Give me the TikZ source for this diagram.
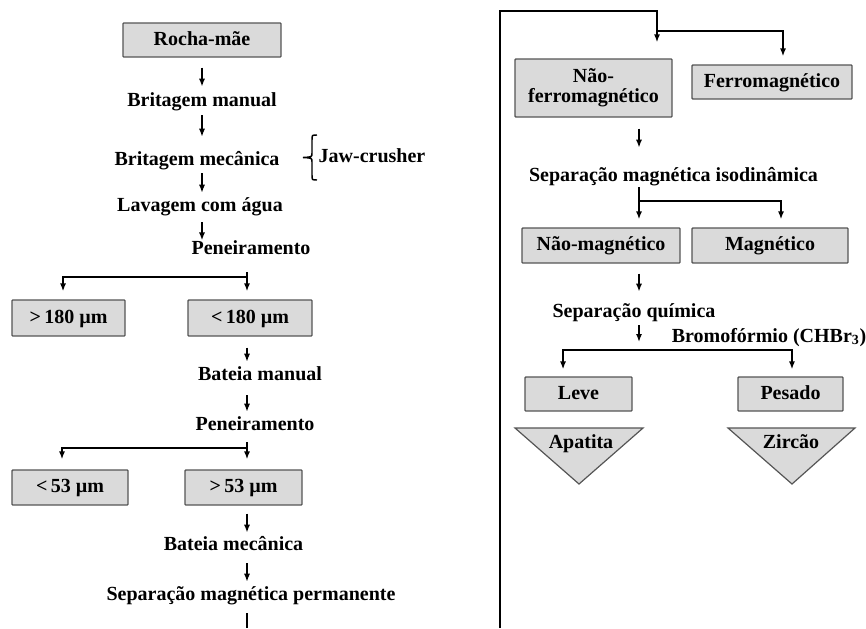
\documentclass[tikz,border=0pt]{standalone}
\usepackage{fontspec}
\setmainfont{Liberation Serif}
\usetikzlibrary{arrows.meta}
\definecolor{boxfill}{RGB}{218,218,218}
\definecolor{boxline}{RGB}{85,85,85}
\begin{document}
\begin{tikzpicture}[x=0.75pt,y=-0.75pt,
  lbl/.style={font=\bfseries\fontsize{15}{15}\selectfont, inner sep=0pt, text height=10pt, text depth=3pt, anchor=base},
  bx/.style={draw=boxline, fill=boxfill, line width=1pt, font=\bfseries\fontsize{15}{15}\selectfont, inner sep=0pt, rounded corners=0.6pt},
  bx1/.style={bx, text height=10pt, text depth=2.5pt},
  arr/.style={line width=1.15pt, -{Latex[length=6pt,width=4.6pt]}},
  ln/.style={line width=1.15pt},
  tri/.style={draw=boxline, fill=boxfill, line width=0.9pt, line join=miter}]
\useasboundingbox (0,0) rectangle (866,628);

% ---------- left column ----------
\node[bx1, minimum width=118.5pt, minimum height=25.5pt] (rocha) at (202,40) {Rocha-mãe};
\node[lbl] (bman) at (202,106) {Britagem manual};
\node[lbl] (bmec) at (197,165) {Britagem mecânica};
\node[lbl] (jaw) at (372,162) {Jaw-crusher};
\node[lbl] (lav) at (200,211) {Lavagem com água};
\node[lbl] (pen1) at (251,254) {Peneiramento};
\node[bx1, minimum width=84.75pt, minimum height=27pt] (g180) at (68.5,318) {>\,180 µm};
\node[bx1, minimum width=93pt, minimum height=27pt] (l180) at (250,318) {<\,180 µm};
\node[lbl] (batm) at (260,380) {Bateia manual};
\node[lbl] (pen2) at (255,430) {Peneiramento};
\node[bx1, minimum width=87pt, minimum height=26.25pt] (l53) at (70,487.5) {<\,53 µm};
\node[bx1, minimum width=87.75pt, minimum height=26.25pt] (g53) at (243.5,487.5) {>\,53 µm};
\node[lbl] (batmec) at (233.5,550) {Bateia mecânica};
\node[lbl] (sepperm) at (251,600) {Separação magnética permanente};

\coordinate (sa) at (202,0);
\coordinate (sx) at (247,0);
\draw[arr, shorten <=7.5pt, shorten >=4.3pt] (rocha.south) -- (bman.north -| sa);
\draw[arr, shorten <=3.75pt, shorten >=11pt] (bman.south -| sa) -- (bmec.north -| sa);
\draw[arr, shorten <=3pt, shorten >=3.5pt] (bmec.south -| sa) -- (lav.north -| sa);
\draw[arr, shorten <=5.25pt, shorten >=0pt] (lav.south -| sa) -- (pen1.north -| sa);

% brace
\draw[line width=1.1pt] (317,135) .. controls (312,135) .. (312,140) -- (312,153)
  .. controls (312,157) .. (303,157.5) .. controls (312,158) .. (312,162) -- (312,175)
  .. controls (312,180) .. (317,180);

\coordinate (j1) at (247,277);
\draw[arr, shorten <=10.5pt, shorten >=6pt] (pen1.south -| sx) -- (l180.north -| sx);
\draw[arr, shorten >=6pt] (j1) -| ([xshift=-4.1pt]g180.north);
\draw[arr, shorten <=8.25pt, shorten >=3.5pt] (l180.south -| sx) -- (batm.north -| sx);
\draw[arr, shorten <=8.25pt, shorten >=3.5pt] (batm.south -| sx) -- (pen2.north -| sx);
\coordinate (j2) at (247,448);
\draw[arr, shorten <=6pt, shorten >=7.5pt] (pen2.south -| sx) -- (g53.north -| sx);
\draw[arr, shorten >=7.5pt] (j2) -| ([xshift=-6pt]l53.north);
\draw[arr, shorten <=6pt, shorten >=2.8pt] (g53.south -| sx) -- (batmec.north -| sx);
\draw[arr, shorten <=6.75pt, shorten >=3.5pt] (batmec.south -| sx) -- (sepperm.north -| sx);
\coordinate (lb) at (247,628);
\draw[ln, shorten <=6.75pt] (sepperm.south -| sx) -- (lb);

% ---------- right column ----------
\node[bx, minimum width=117.75pt, minimum height=43.5pt, align=center] (naoferro) at (593.5,88) {Não-\\ferromagnético};
\node[bx1, minimum width=120pt, minimum height=25.5pt] (ferro) at (772,82) {Ferromagnético};
\node[lbl] (sepiso) at (673.5,181) {Separação magnética isodinâmica};
\node[bx1, minimum width=118.5pt, minimum height=26.25pt] (naomag) at (601,245.5) {Não-magnético};
\node[bx1, minimum width=117pt, minimum height=26.25pt] (mag) at (770,245.5) {Magnético};
\node[lbl] (sepq) at (634,317) {Separação química};
\node[lbl] (bromo) at (769,342) {Bromofórmio (CHBr\textsubscript{3})};
\node[bx1, minimum width=80.25pt, minimum height=25.5pt] (leve) at (578.5,394) {Leve};
\node[bx1, minimum width=78.75pt, minimum height=25.5pt] (pesado) at (790.5,394) {Pesado};

\draw[tri] (515,428) -- (643,428) -- (579,484) -- cycle;
\node[lbl] (apat) at (581,448) {Apatita};
\draw[tri] (728,428) -- (855,428) -- (792,484) -- cycle;
\node[lbl] (zirc) at (791,448) {Zircão};

\coordinate (rb) at (500,628);
\coordinate (rj) at (657,11);
\coordinate (rk) at (657,31);
\draw[arr, line width=1.3pt, shorten >=12pt] (rb) |- (rj) -- (naoferro.north -| rj);
\draw[arr, shorten >=6pt] (rk) -| ([xshift=8.25pt]ferro.north);

\coordinate (sr) at (639,0);
\draw[arr, shorten <=8.25pt, shorten >=14.8pt] (naoferro.south -| sr) -- (sepiso.north -| sr);
\coordinate (j3) at (639,201);
\draw[arr, shorten <=1.5pt, shorten >=6pt] (sepiso.south -| sr) -- (naomag.north -| sr);
\draw[arr, shorten >=6pt] (j3) -| ([xshift=8.25pt]mag.north);
\draw[arr, shorten <=7.5pt, shorten >=8.8pt] (naomag.south -| sr) -- (sepq.north -| sr);
\coordinate (j4) at (639,350);
\draw[arr, shorten <=3pt, shorten >=6pt] (sepq.south -| sr) -- (j4);
\draw[arr, shorten >=5.25pt] (j4) -| ([xshift=-11.6pt]leve.north);
\draw[arr, shorten >=5.25pt] (j4) -| ([xshift=1.1pt]pesado.north);
\end{tikzpicture}
\end{document}
